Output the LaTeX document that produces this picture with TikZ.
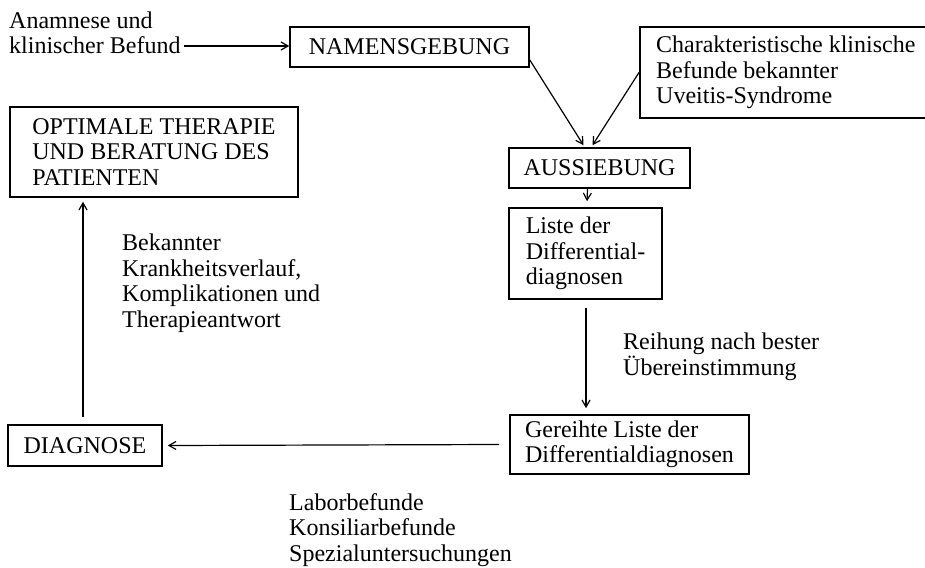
\documentclass[tikz,border=0pt]{standalone}
\usepackage{fontspec}
\setmainfont{Liberation Serif}
\usetikzlibrary{arrows.meta,calc}
\begin{document}
\begin{tikzpicture}[x=1pt,y=-1pt,
  every node/.style={font=\fontsize{24}{25.5}\selectfont, inner sep=0pt},
  box/.style={draw, line width=1.6pt, align=left},
  lbl/.style={align=left, anchor=west},
  arr/.style={-{Straight Barb[length=7pt,width=8pt]}, line width=1.2pt}]
\useasboundingbox (0,0) rectangle (925,567);
% boxes
\node[box, minimum width=239pt, minimum height=40pt] (nam) at (409.5,47) {NAMENSGEBUNG};
\node[box, anchor=west, minimum width=292pt, minimum height=91pt] (char) at (639,72.5)
  {Charakteristische klinische\\Befunde bekannter\\Uveitis-Syndrome};
\node[box, minimum width=181pt, minimum height=40pt] (aus) at (599.5,168) {AUSSIEBUNG};
\node[box, minimum width=153pt, minimum height=91pt] (liste) at (585.5,253.5)
  {Liste der\\Differential-\\diagnosen};
\node[box, minimum width=239pt, minimum height=59pt] (ger) at (629.5,444.5)
  {Gereihte Liste der\\Differentialdiagnosen};
\node[box, minimum width=154pt, minimum height=41pt] (diag) at (85,445.5) {DIAGNOSE};
\node[box, minimum width=288pt, minimum height=90pt] (opt) at (154,152)
  {OPTIMALE THERAPIE\\UND BERATUNG DES\\PATIENTEN};
% labels
\node[lbl] (anam) at (9,33) {Anamnese und\\klinischer Befund};
\node[lbl] (reih) at (623,357) {Reihung nach bester\\Übereinstimmung};
\node[lbl] (bek) at (122,283) {Bekannter\\Krankheitsverlauf,\\Komplikationen und\\Therapieantwort};
\node[lbl] (labor) at (289,530) {Laborbefunde\\Konsiliarbefunde\\Spezialuntersuchungen};
% connectors
\coordinate (a0) at (184,46);
\draw[arr] (a0) -- (nam.west |- a0);
\draw[arr] ($(nam.east)+(0,13)$) -- ($(aus.north)+(-16,-2)$);
\draw[arr] (char.west) -- ($(aus.north)+(-7,-2)$);
\draw[arr] ($(aus.south)+(-12,0)$) -- ($(liste.north)+(1.5,-6)$);
\draw[arr] ($(liste.south)+(0.5,8)$) -- ($(liste.south |- ger.north)+(0.5,-6)$);
\draw[arr] ($(ger.west)+(-10,0)$) -- ($(diag.east)+(5,0)$);
\draw[arr] ($(diag.north)+(-2,-7)$) -- ($(diag.north |- opt.south)+(-2,4)$);
\end{tikzpicture}
\end{document}
